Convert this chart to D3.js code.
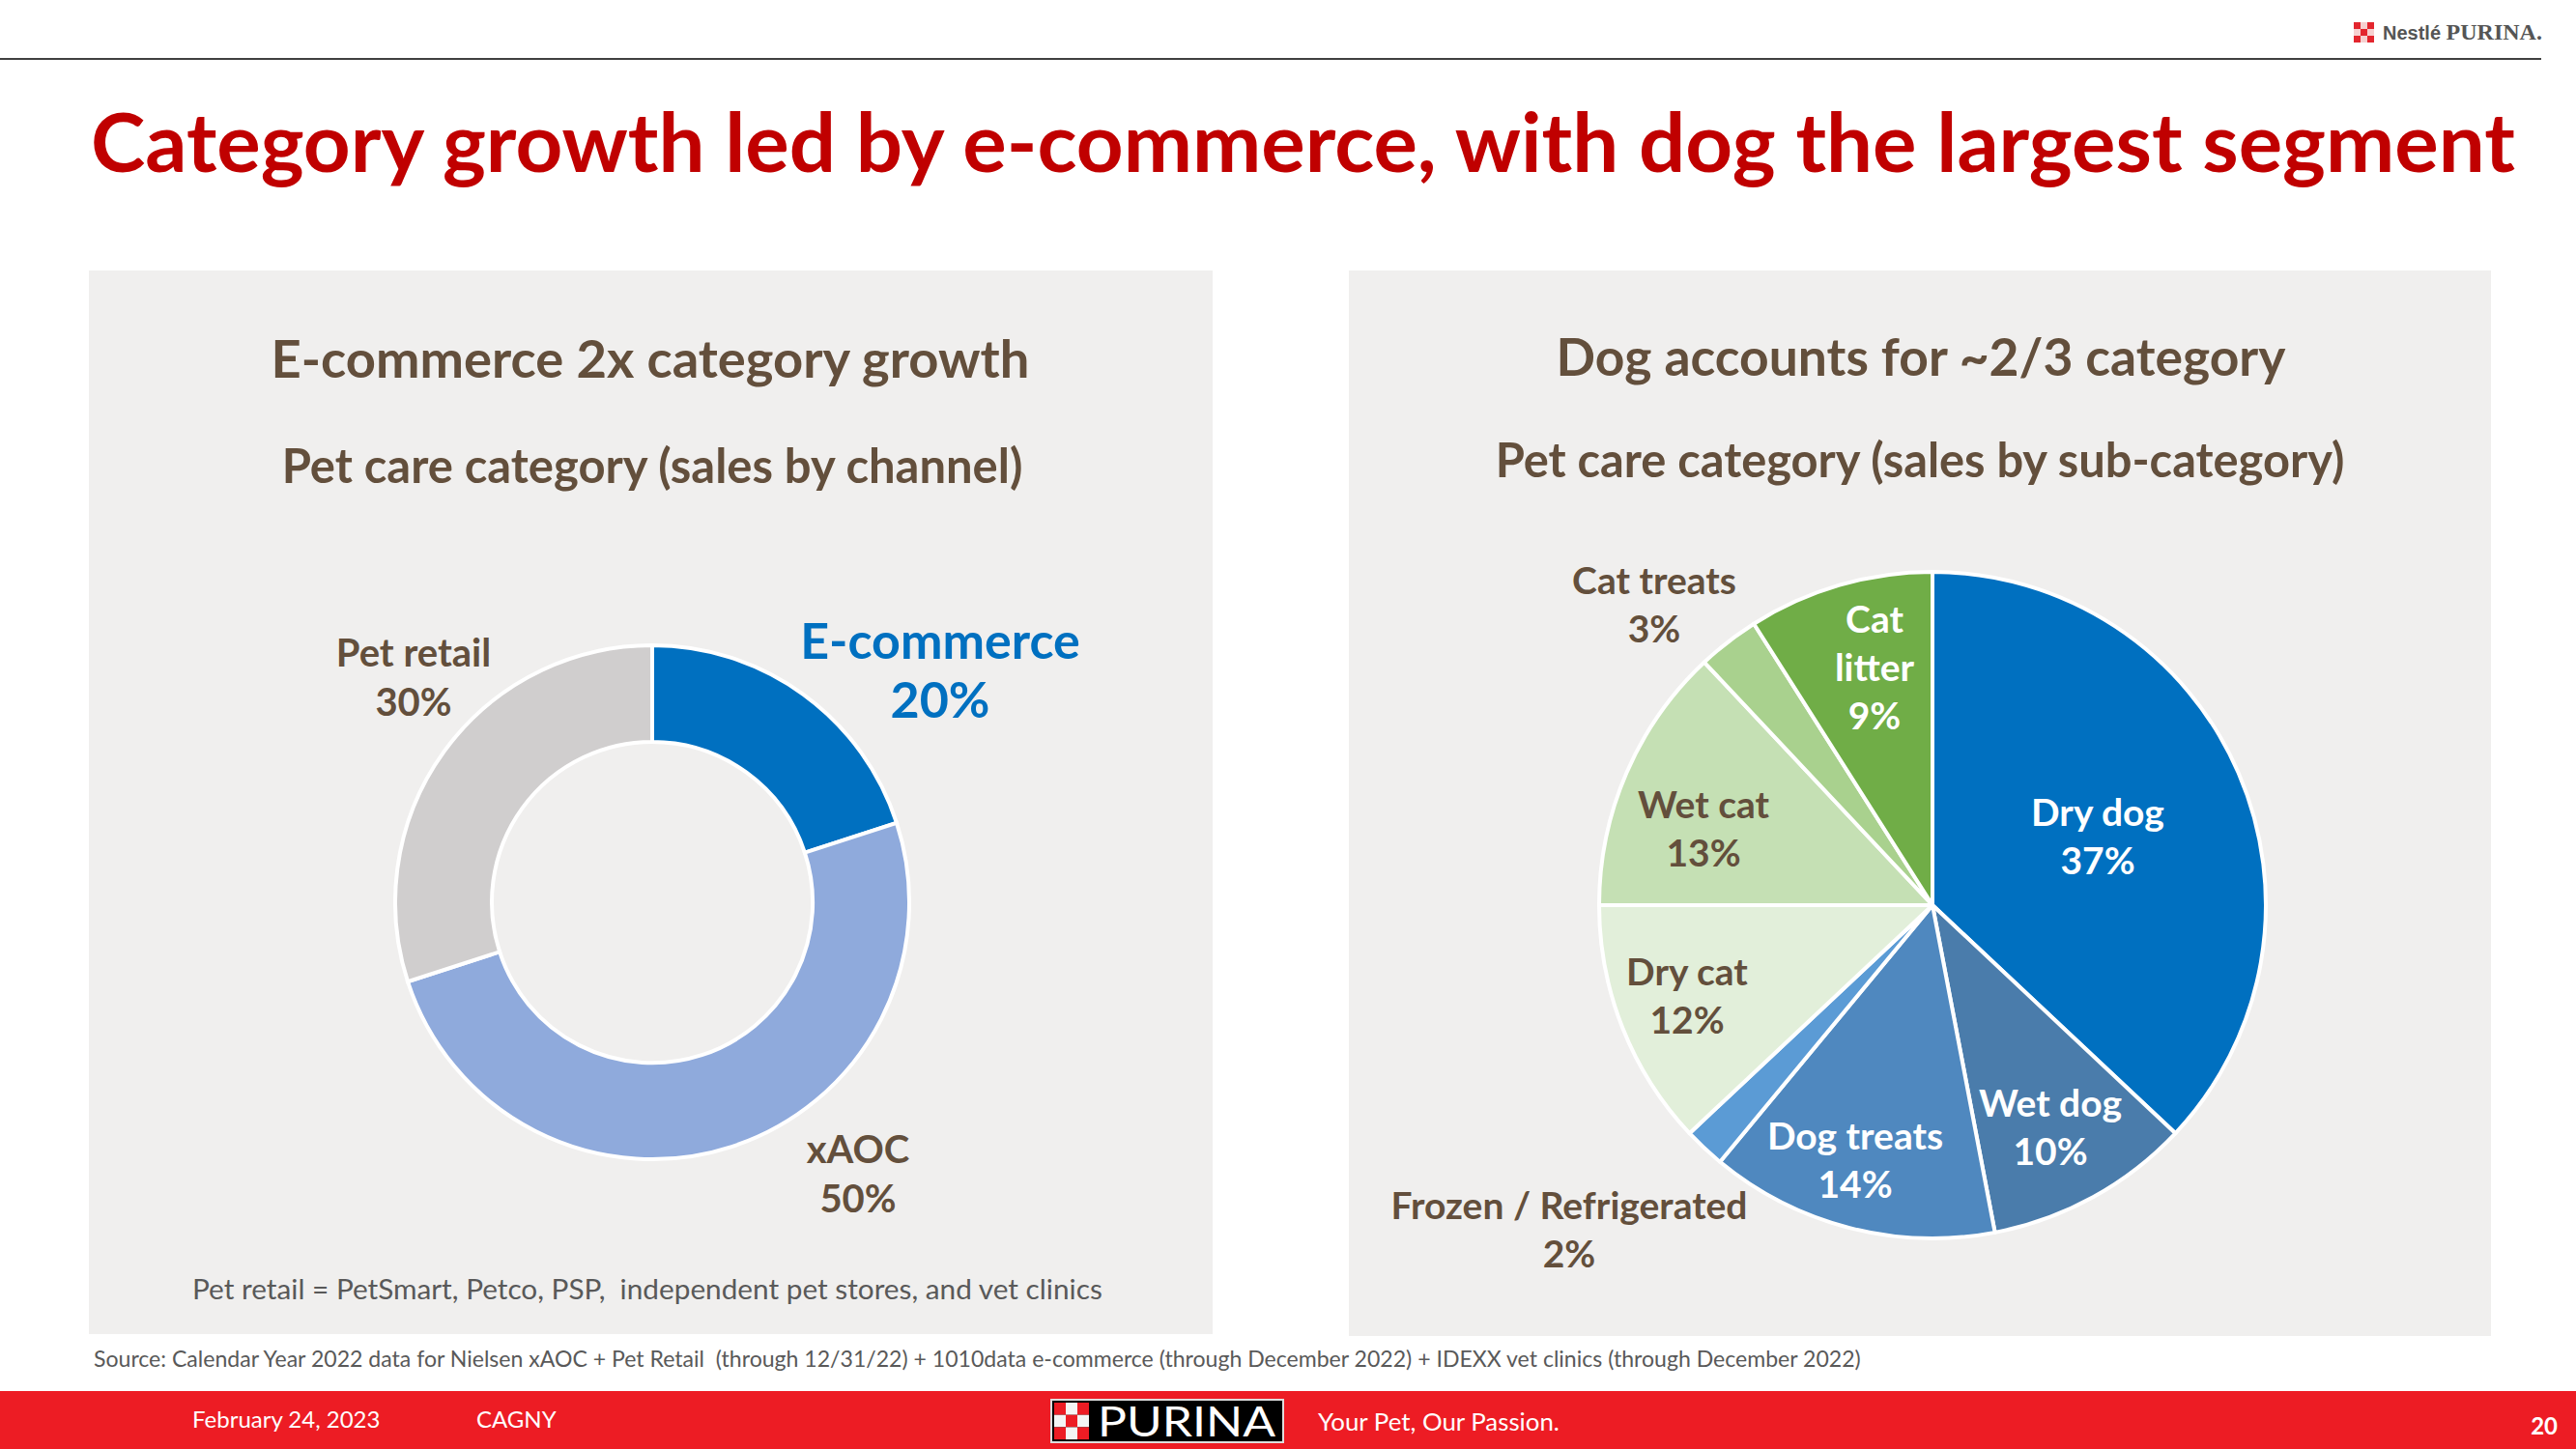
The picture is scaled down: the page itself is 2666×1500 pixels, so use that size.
<!DOCTYPE html>
<html>
<head>
<meta charset="utf-8">
<script src="https://cdn.jsdelivr.net/npm/d3@7"></script>
<style>
  html, body { margin: 0; padding: 0; background: #ffffff; }
  svg { display: block; }
  text { font-family: Lato, "Open Sans", "DejaVu Sans", sans-serif; white-space: pre; }
</style>
</head>
<body>
<svg id="chart" width="2666" height="1500"></svg>
<script>
// ---------- DATA ----------
const channelNames = ["E-commerce", "xAOC", "Pet retail"];
const channelValues = [20, 50, 30];

const subCategoryNames = ["Dry dog", "Wet dog", "Dog treats", "Frozen / Refrigerated", "Dry cat", "Wet cat", "Cat treats", "Cat litter"];
const subCategoryValues = [37, 10, 14, 2, 12, 13, 3, 9];

const mainTitle = "Category growth led by e-commerce, with dog the largest segment";
const leftTitle = "E-commerce 2x category growth";
const leftSubtitle = "Pet care category (sales by channel)";
const rightTitle = "Dog accounts for ~2/3 category";
const rightSubtitle = "Pet care category (sales by sub-category)";
const leftNote = "Pet retail = PetSmart, Petco, PSP,  independent pet stores, and vet clinics";
const sourceNote = "Source: Calendar Year 2022 data for Nielsen xAOC + Pet Retail  (through 12/31/22) + 1010data e-commerce (through December 2022) + IDEXX vet clinics (through December 2022)";
const footerDate = "February 24, 2023";
const footerEvent = "CAGNY";
const footerTagline = "Your Pet, Our Passion.";
const pageNumber = "20";

// ---------- STYLE / LAYOUT ----------
const BROWN = "#634f3c";
const channelColors = {"E-commerce": "#0070c0", "xAOC": "#8faadc", "Pet retail": "#d0cece"};
const subColors = {
  "Dry dog": "#0070c0", "Wet dog": "#4a7cab", "Dog treats": "#4f88bf", "Frozen / Refrigerated": "#5b9bd5",
  "Dry cat": "#e2efda", "Wet cat": "#c5e0b4", "Cat treats": "#a9d18e", "Cat litter": "#70ad47"
};

const svg = d3.select("#chart");

function fitWidth(sel, w) {
  const node = sel.node();
  const cur = node.getComputedTextLength();
  const fs = parseFloat(sel.attr("font-size"));
  sel.attr("font-size", fs * w / cur);
  return sel;
}

// header line
svg.append("line").attr("x1", 0).attr("x2", 2630).attr("y1", 61).attr("y2", 61)
  .attr("stroke", "#404040").attr("stroke-width", 2);

// Nestlé Purina logo (top right)
const logo = svg.append("g").attr("transform", "translate(2436,23)");
const chk = [[1,0,1],[0,1,0],[1,0,1]];
chk.forEach((row, i) => row.forEach((c, j) => {
  logo.append("rect").attr("x", j * 7).attr("y", i * 7).attr("width", 7).attr("height", 7)
    .attr("fill", c ? "#e3262e" : "#f6d0d0");
}));
const lt = svg.append("text").attr("x", 2466).attr("y", 41).attr("font-size", 22).attr("fill", "#555");
lt.append("tspan").attr("font-family", "Liberation Sans, Arial, sans-serif").attr("font-weight", 700).attr("font-size", 20).text("Nestlé ");
lt.append("tspan").attr("font-family", "Liberation Serif, serif").attr("font-weight", 700).attr("font-size", 24).text("PURINA.");
fitWidth(lt, 174);

// main title
fitWidth(svg.append("text").attr("x", 94).attr("y", 178).attr("font-size", 78)
  .attr("font-weight", 700).attr("fill", "#c00000").text(mainTitle), 2509);

// panels
svg.append("rect").attr("x", 92).attr("y", 280).attr("width", 1163).attr("height", 1101).attr("fill", "#f0efee");
svg.append("rect").attr("x", 1396).attr("y", 280).attr("width", 1182).attr("height", 1103).attr("fill", "#f0efee");

// panel titles
fitWidth(svg.append("text").attr("x", 673).attr("y", 391).attr("text-anchor", "middle").attr("font-size", 52)
  .attr("font-weight", 700).attr("fill", BROWN).text(leftTitle), 785);
fitWidth(svg.append("text").attr("x", 675).attr("y", 500).attr("text-anchor", "middle").attr("font-size", 46)
  .attr("font-weight", 700).attr("fill", BROWN).text(leftSubtitle), 767);
fitWidth(svg.append("text").attr("x", 1988).attr("y", 389).attr("text-anchor", "middle").attr("font-size", 52)
  .attr("font-weight", 700).attr("fill", BROWN).text(rightTitle), 755);
fitWidth(svg.append("text").attr("x", 1987).attr("y", 494).attr("text-anchor", "middle").attr("font-size", 46)
  .attr("font-weight", 700).attr("fill", BROWN).text(rightSubtitle), 879);

// ---------- LEFT DONUT ----------
const pie = d3.pie().sort(null).value(d => d.value);
const channelData = channelNames.map((n, i) => ({name: n, value: channelValues[i]}));
const donutArcs = pie(channelData);
const donutArc = d3.arc().innerRadius(166).outerRadius(266);
const dg = svg.append("g").attr("transform", "translate(675,934)");
dg.selectAll("path").data(donutArcs).join("path")
  .attr("d", donutArc).attr("fill", d => channelColors[d.data.name])
  .attr("stroke", "#ffffff").attr("stroke-width", 4);

// donut labels (positioned outside the ring)
const donutLabelPos = {
  "E-commerce": {x: 973, y: 682, dy: 61, size: 52, color: "#0070c0"},
  "xAOC": {x: 888, y: 1204, dy: 51, size: 40, color: BROWN},
  "Pet retail": {x: 428, y: 690, dy: 51, size: 40, color: BROWN}
};
donutArcs.forEach(a => {
  const p = donutLabelPos[a.data.name];
  const t = svg.append("text").attr("text-anchor", "middle").attr("font-weight", 700)
    .attr("font-size", p.size).attr("fill", p.color);
  t.append("tspan").attr("x", p.x).attr("y", p.y).text(a.data.name);
  t.append("tspan").attr("x", p.x).attr("y", p.y + p.dy).text(d3.format(".0%")(a.data.value / 100));
});

fitWidth(svg.append("text").attr("x", 199).attr("y", 1345).attr("font-size", 29).attr("fill", "#595959")
  .text(leftNote), 942);

// ---------- RIGHT PIE ----------
const subData = subCategoryNames.map((n, i) => ({name: n, value: subCategoryValues[i]}));
const pieArcs = pie(subData);
const pieArc = d3.arc().innerRadius(0).outerRadius(345);
const pg = svg.append("g").attr("transform", "translate(2000,937)");
pg.selectAll("path").data(pieArcs).join("path")
  .attr("d", pieArc).attr("fill", d => subColors[d.data.name])
  .attr("stroke", "#ffffff").attr("stroke-width", 4).attr("stroke-linejoin", "round");

const pieLabelPos = {
  "Dry dog": {x: 2171, y: 855, color: "#ffffff"},
  "Wet dog": {x: 2122, y: 1156, color: "#ffffff"},
  "Dog treats": {x: 1920, y: 1190, color: "#ffffff"},
  "Frozen / Refrigerated": {x: 1624, y: 1262, color: BROWN},
  "Dry cat": {x: 1746, y: 1020, color: BROWN},
  "Wet cat": {x: 1763, y: 847, color: BROWN},
  "Cat treats": {x: 1712, y: 615, color: BROWN},
  "Cat litter": {x: 1940, y: 655, color: "#ffffff", split: true}
};
pieArcs.forEach(a => {
  const p = pieLabelPos[a.data.name];
  const lines = p.split ? a.data.name.split(" ") : [a.data.name];
  lines.push(d3.format(".0%")(a.data.value / 100));
  const t = svg.append("text").attr("text-anchor", "middle").attr("font-weight", 700)
    .attr("font-size", 39).attr("fill", p.color);
  lines.forEach((l, i) => t.append("tspan").attr("x", p.x).attr("y", p.y + i * 50).text(l));
});

// source
fitWidth(svg.append("text").attr("x", 97).attr("y", 1415).attr("font-size", 24).attr("fill", "#595959")
  .text(sourceNote), 1830);

// ---------- FOOTER ----------
svg.append("rect").attr("x", 0).attr("y", 1440).attr("width", 2666).attr("height", 60).attr("fill", "#ed1c24");
svg.append("text").attr("x", 199).attr("y", 1478).attr("font-size", 24).attr("fill", "#fff").text(footerDate);
svg.append("text").attr("x", 493).attr("y", 1478).attr("font-size", 24).attr("fill", "#fff").text(footerEvent);
svg.append("text").attr("x", 2647).attr("y", 1485).attr("text-anchor", "end").attr("font-size", 24)
  .attr("font-weight", 700).attr("fill", "#fff").text(pageNumber);

// PURINA logo
const pl = svg.append("g").attr("transform", "translate(1088,1449)");
pl.append("rect").attr("width", 240).attr("height", 44).attr("fill", "#000").attr("stroke", "#ddd").attr("stroke-width", 2);
const chk2 = [[1,0,1],[0,1,0],[1,0,1]];
chk2.forEach((row, i) => row.forEach((c, j) => {
  pl.append("rect").attr("x", 3 + j * 12).attr("y", 3 + i * 12.7).attr("width", 12).attr("height", 12.7)
    .attr("fill", c ? "#ed1c24" : "#f4f4f4");
}));
pl.append("text").attr("x", 48).attr("y", 38).attr("font-size", 42).attr("font-family", "Liberation Serif, serif")
  .attr("fill", "#fff").attr("textLength", 184).attr("lengthAdjust", "spacingAndGlyphs").text("PURINA");
fitWidth(svg.append("text").attr("x", 1364).attr("y", 1481).attr("font-size", 28).attr("font-family", "Liberation Serif, serif")
  .attr("fill", "#fff").text(footerTagline), 250);
</script>
</body>
</html>
